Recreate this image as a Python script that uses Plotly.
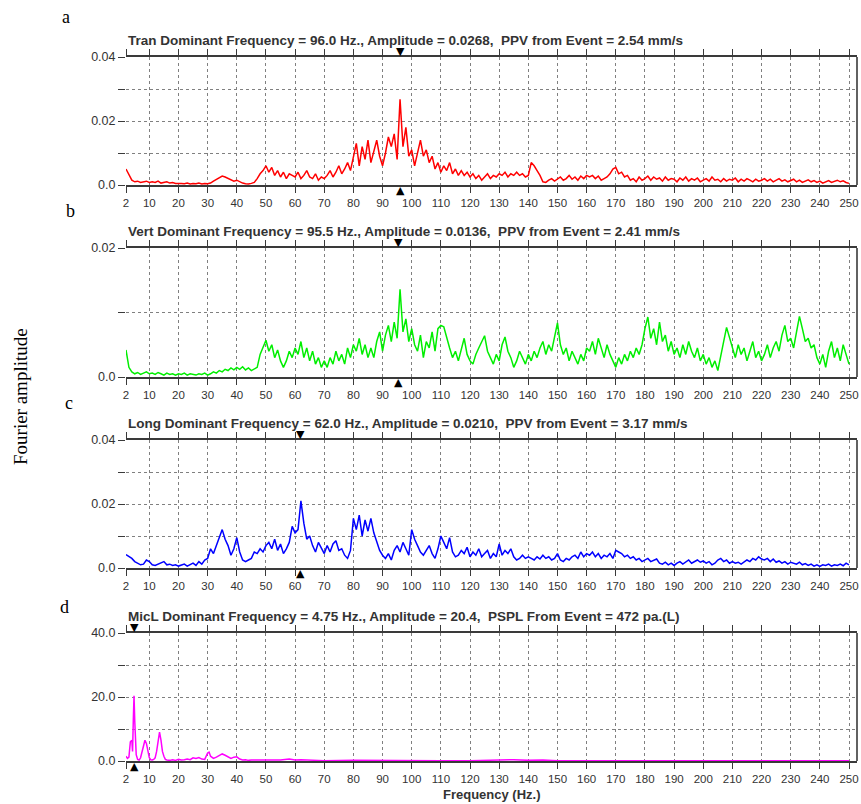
import numpy as np
import plotly.graph_objects as go

# ---------------- data (amplitudes in units of 1e-4 for panels a-c) ----------------
freq_hz = list(range(2, 251))

tran_e4 = [
    50, 30, 15, 10, 12, 8, 10, 12,
    8, 10, 8, 12, 6, 8, 10, 6, 8, 5,
    6, 5, 4, 6, 3, 5, 4, 6, 3, 5,
    4, 6, 12, 18, 22, 28, 25, 20, 15, 12,
    15, 10, 6, 4, 3, 5, 8, 20, 35, 45,
    60, 40, 55, 30, 45, 25, 40, 20, 35, 30,
    25, 40, 20, 30, 45, 25, 20, 35, 15, 25,
    20, 30, 45, 25, 40, 60, 35, 50, 70, 45,
    90, 130, 60, 120, 80, 140, 70, 110, 140, 90,
    60, 100, 150, 120, 160, 80, 268, 120, 180, 90,
    110, 60, 100, 140, 90, 110, 70, 90, 50, 70,
    40, 60, 45, 70, 35, 50, 30, 45, 30, 40,
    25, 35, 20, 30, 15, 25, 35, 20, 30, 25,
    35, 30, 40, 25, 35, 30, 40, 30, 35, 25,
    30, 70, 60, 45, 30, 10, 8, 15, 20, 12,
    18, 25, 15, 20, 30, 18, 25, 15, 28, 20,
    30, 25, 30, 20, 28, 15, 20, 25, 35, 50,
    55, 35, 40, 25, 30, 15, 20, 10, 25, 15,
    20, 28, 15, 25, 18, 22, 12, 25, 15, 20,
    18, 10, 22, 15, 25, 12, 20, 15, 22, 10,
    15, 20, 12, 25, 15, 18, 10, 20, 12, 18,
    15, 22, 10, 18, 12, 20, 15, 10, 18, 12,
    15, 20, 12, 18, 10, 15, 20, 12, 16, 10,
    14, 18, 10, 15, 8, 12, 16, 10, 14, 8,
    12, 6, 10, 14, 8, 12, 15, 10, 13, 8,
    5,
]

vert_e4 = [
    42, 15, 8, 5, 7, 4, 6, 8,
    5, 6, 4, 7, 5, 3, 6, 4, 5, 3,
    5, 4, 6, 3, 5, 4, 3, 5, 4, 6,
    3, 5, 8, 6, 10, 8, 12, 10, 14, 11,
    15, 12, 16, 11, 14, 10, 13, 15, 35, 45,
    57, 40, 50, 30, 42, 25, 15, 25, 40, 30,
    45, 35, 55, 30, 45, 25, 40, 20, 30, 15,
    25, 15, 30, 20, 40, 25, 35, 20, 45, 30,
    50, 40, 60, 35, 50, 30, 45, 30, 55, 70,
    40, 65, 80, 55, 85, 60, 136, 70, 90, 55,
    75, 50, 40, 65, 30, 55, 45, 70, 40, 75,
    80, 78, 60, 45, 30, 40, 25, 45, 60, 35,
    25, 20, 35, 45, 55, 64, 40, 30, 20, 35,
    25, 50, 62, 40, 30, 15, 25, 40, 30, 20,
    35, 25, 40, 30, 45, 55, 35, 50, 40, 65,
    84, 50, 35, 45, 25, 40, 30, 20, 35, 25,
    45, 40, 55, 35, 60, 45, 30, 50, 35, 25,
    15, 30, 20, 35, 25, 40, 30, 45, 35, 50,
    75, 93, 60, 75, 50, 85, 55, 65, 40, 55,
    35, 45, 30, 50, 35, 55, 40, 30, 45, 25,
    35, 20, 30, 15, 25, 10, 35, 55, 77, 60,
    45, 30, 50, 35, 45, 25, 40, 55, 30, 40,
    25, 35, 50, 30, 45, 55, 40, 65, 80, 55,
    60, 45, 70, 94, 75, 55, 60, 45, 50, 30,
    20, 35, 15, 40, 55, 30, 45, 25, 50, 35,
    20,
]

long_e4 = [
    42, 35, 30, 20, 15, 10, 12, 25,
    20, 10, 8, 12, 15, 20, 10, 12, 8, 10,
    6, 8, 12, 6, 10, 15, 8, 20, 12, 25,
    30, 60, 45, 70, 100, 120, 90, 70, 40, 60,
    95, 50, 25, 20, 25, 30, 50, 45, 60, 50,
    70, 80, 60, 90, 55, 75, 45, 60, 80, 130,
    110, 120, 210, 140, 90, 100, 70, 50, 80, 60,
    45, 70, 50, 75, 85, 55, 60, 40, 30, 55,
    155, 120, 165, 100, 150, 115, 155, 110, 80, 55,
    40, 30, 45, 25, 55, 70, 50, 80, 60, 40,
    120, 90, 70, 50, 40, 55, 70, 45, 30, 60,
    100, 80, 60, 95, 50, 35, 40, 55, 45, 65,
    35, 50, 40, 60, 35, 45, 55, 30, 45, 35,
    75, 40, 55, 45, 60, 35, 25, 30, 40, 30,
    35, 30, 25, 35, 28, 40, 30, 35, 25, 30,
    45, 25, 20, 30, 25, 35, 40, 30, 50, 35,
    45, 40, 50, 35, 45, 30, 40, 35, 45, 30,
    55, 50, 45, 35, 40, 30, 35, 25, 30, 20,
    25, 30, 20, 25, 28, 15, 12, 18, 10, 15,
    8, 15, 20, 12, 18, 25, 15, 20, 25, 18,
    22, 15, 20, 10, 15, 25, 30, 20, 25, 15,
    20, 15, 18, 12, 20, 25, 20, 30, 25, 35,
    28, 25, 30, 20, 28, 18, 22, 15, 20, 12,
    18, 15, 12, 18, 10, 14, 8, 12, 6, 10,
    5, 10, 8, 12, 6, 10, 8, 12, 7, 15,
    10,
]

mic_freq = [2, 2.5, 3, 3.5, 4, 4.25, 4.5, 4.75, 5, 5.25, 5.5, 6, 6.5, 7, 7.5, 8, 8.5,
            9, 9.5, 10, 10.5, 11, 11.5, 12, 12.5, 13, 13.5, 14, 14.5, 15, 15.5, 16,
            17, 18, 19, 20, 21, 22, 23, 24, 25, 26, 27, 28, 29, 30, 30.5, 31, 32, 33,
            34, 35, 36, 37, 38, 39, 40, 41, 42, 43, 44, 45, 50, 55, 58, 60, 62, 65,
            70, 80, 90, 100, 110, 120, 128, 130, 132, 135, 140, 145, 150, 160, 180,
            200, 220, 240, 250]
mic_amp = [1.5, 0.8, 1.2, 6, 6.5, 3, 12.5, 20.4, 12.5, 7, 2, 0.5, 0.3, 1, 3, 5, 6.5,
           5.5, 3, 1, 0.4, 0.3, 0.5, 1, 3, 7, 9, 6.5, 3, 1.5, 0.5, 0.3,
           0.2, 0.4, 0.2, 0.5, 0.3, 0.4, 0.6, 0.4, 1, 0.8, 1.1, 0.6, 0.5, 2.5, 2.8, 1.5, 0.8, 1.2,
           1.6, 2.2, 1.8, 1.3, 0.8, 1.2, 1.3, 0.6, 0.3, 0.4, 0.2, 0.3, 0.2, 0.3, 0.6, 0.3, 0.4, 0.2,
           0.1, 0.2, 0.1, 0.2, 0.1, 0.1, 0.3, 0.4, 0.3, 0.4, 0.2, 0.3, 0.1, 0.1, 0.1,
           0.1, 0.1, 0.1, 0.1]

dominant_hz = [96.0, 95.5, 62.0, 4.75]
y_max = [0.04, 0.02, 0.04, 40.0]
y_ticktext = [["0.0", "", "0.02", "", "0.04"],
              ["0.0", "", "0.02"],
              ["0.0", "", "0.02", "", "0.04"],
              ["0.0", "", "20.0", "", "40.0"]]
x_tickvals = [2] + list(range(10, 251, 10))
panel_titles = [
    "Tran Dominant Frequency = 96.0 Hz., Amplitude = 0.0268, \u00a0PPV from Event = 2.54 mm/s",
    "Vert Dominant Frequency = 95.5 Hz., Amplitude = 0.0136, \u00a0PPV from Event = 2.41 mm/s",
    "Long Dominant Frequency = 62.0 Hz., Amplitude = 0.0210, \u00a0PPV from Event = 3.17 mm/s",
    "MicL Dominant Frequency = 4.75 Hz., Amplitude = 20.4, \u00a0PSPL From Event = 472 pa.(L)",
]
panel_letters = ["a", "b", "c", "d"]
colors = ["#ff0000", "#00ee00", "#0000ff", "#ff00ff"]

series_x = [freq_hz, freq_hz, freq_hz, mic_freq]
series_y = [list(np.array(tran_e4) * 1e-4), list(np.array(vert_e4) * 1e-4),
            list(np.array(long_e4) * 1e-4), mic_amp]

# ---------------- layout geometry (pixels) ----------------
W, H = 861, 804
x_left, x_right = 126, 857
panel_px = [(57, 185), (248, 377), (440, 568), (633, 761)]
letter_px = [(66, 17), (70, 211), (69, 403), (64, 607)]

fig = go.Figure()
layout = dict(width=W, height=H, margin=dict(l=0, r=0, t=0, b=0, autoexpand=False),
              paper_bgcolor="white", plot_bgcolor="white", showlegend=False,
              annotations=[], shapes=[])

axis_col = "#3a3a3a"
grid_col = "#808080"
sans = "Arial, Liberation Sans"
serif = "Liberation Serif, Times New Roman"

for i in range(4):
    n = "" if i == 0 else str(i + 1)
    top, bot = panel_px[i]
    ydom = [1 - bot / H, 1 - top / H]
    xdom = [x_left / W, x_right / W]
    fig.add_trace(go.Scatter(x=series_x[i], y=series_y[i], mode="lines",
                             line=dict(color=colors[i], width=1.5),
                             xaxis="x" + n, yaxis="y" + n, hoverinfo="skip"))
    layout["xaxis" + n] = dict(domain=xdom, range=[2, 252.74], anchor="y" + n,
                               automargin=False,
                               tickvals=x_tickvals, ticks="outside", ticklen=6,
                               tickwidth=1, tickcolor=axis_col, showline=True,
                               linecolor=axis_col, linewidth=1.6, mirror="ticks",
                               showgrid=True, gridcolor=grid_col, gridwidth=1,
                               griddash="3px,3px", zeroline=False,
                               tickfont=dict(family=sans, size=11.5, color="#333333"),
                               layer="below traces")
    nt = len(y_ticktext[i])
    layout["yaxis" + n] = dict(domain=ydom, range=[0, y_max[i]], anchor="x" + n,
                               automargin=False,
                               tickvals=[y_max[i] * k / (nt - 1) for k in range(nt)],
                               ticktext=y_ticktext[i], ticks="outside", ticklen=7,
                               tickwidth=1, tickcolor=axis_col, showline=False,
                               showgrid=True, gridcolor=grid_col, gridwidth=1,
                               griddash="3px,3px", zeroline=False,
                               tickfont=dict(family=sans, size=12.5, color="#333333"),
                               layer="below traces")
    # right border
    layout["shapes"].append(dict(type="line", xref="x" + n + " domain", yref="y" + n + " domain",
                                 x0=1, x1=1, y0=0, y1=1,
                                 line=dict(color=axis_col, width=1.6)))
    # panel title
    layout["annotations"].append(dict(text="<b>" + panel_titles[i] + "</b>", xref="paper",
                                      yref="paper", x=x_left / W, y=ydom[1],
                                      xanchor="left", yanchor="bottom", yshift=7,
                                      showarrow=False,
                                      font=dict(family=sans, size=13.5, color="#333333")))
    # dominant frequency markers
    layout["annotations"].append(dict(text="\u25bc", xref="x" + n, yref="y" + n + " domain",
                                      x=dominant_hz[i], y=1, xanchor="center",
                                      yanchor="bottom", yshift=-3, showarrow=False,
                                      font=dict(family="DejaVu Sans", size=11, color="black")))
    layout["annotations"].append(dict(text="\u25b2", xref="x" + n, yref="y" + n + " domain",
                                      x=dominant_hz[i], y=0, xanchor="center",
                                      yanchor="top", yshift=3, showarrow=False,
                                      font=dict(family="DejaVu Sans", size=11, color="black")))
    # panel letter
    lx, ly = letter_px[i]
    layout["annotations"].append(dict(text=panel_letters[i], xref="paper", yref="paper",
                                      x=lx / W, y=1 - ly / H, xanchor="center",
                                      yanchor="middle", showarrow=False,
                                      font=dict(family=serif, size=18, color="black")))

layout["annotations"].append(dict(text="Fourier amplitude", xref="paper", yref="paper",
                                  x=20 / W, y=1 - 397 / H, textangle=-90,
                                  xanchor="center", yanchor="middle", showarrow=False,
                                  font=dict(family=serif, size=19, color="black")))
layout["annotations"].append(dict(text="<b>Frequency (Hz.)</b>", xref="paper", yref="paper",
                                  x=(x_left + x_right) / 2 / W, y=1 - 794 / H,
                                  xanchor="center", yanchor="middle", showarrow=False,
                                  font=dict(family=sans, size=13, color="#333333")))

fig.update_layout(**layout)
fig.write_html("out.html", config={"displayModeBar": False},
               post_script="document.body.style.margin='0';document.body.style.padding='0';")
